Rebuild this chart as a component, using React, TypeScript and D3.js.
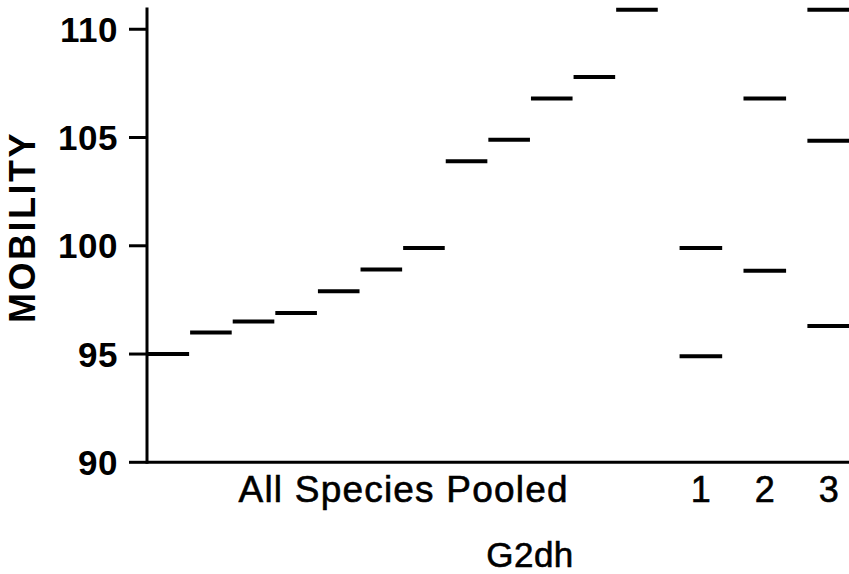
import React from "react";
import * as d3 from "d3";

// mobility values
const pooledValues = [95, 96, 96.5, 96.9, 97.9, 98.9, 99.9, 103.9, 104.9, 106.8, 107.8, 110.9];
const group1Values = [99.9, 94.9];
const group2Values = [106.8, 98.85];
const group3Values = [110.9, 104.85, 96.3];

const groupLabels = ["1", "2", "3"];
// slot position (in dash widths) where each group column starts
const groupSlots = [12.5, 14, 15.5];
const yTicks = [90, 95, 100, 105, 110];

const FONT = "'Liberation Sans', Arial, Helvetica, sans-serif";

const App = () => {
    const width = 849;
    const height = 574;

    // x in "slot" units, one slot = width of one dash
    const x = d3.scaleLinear().domain([0, 16.5]).range([147, 850]);
    const y = d3.scaleLinear().domain([90, 111]).range([462.3, 7.6]);

    // build the list of dashes
    const dashes: { x0: number; x1: number; v: number }[] = [];
    pooledValues.forEach((v, i) => {
        dashes.push({ x0: x(i) + 0.5, x1: x(i + 1) - 0.5, v });
    });
    [group1Values, group2Values, group3Values].forEach((vals, g) => {
        vals.forEach((v) => {
            dashes.push({ x0: x(groupSlots[g]), x1: x(groupSlots[g] + 1), v });
        });
    });

    // slightly heavier regular text, like the scanned original
    const labelStyle = { stroke: "#000", strokeWidth: 0.6 };

    return (
        <svg
            width={width}
            height={height}
            style={{ position: "absolute", left: 0, top: 0, background: "#fff" }}
        >
            {/* axes */}
            <line x1={147} x2={147} y1={y(111)} y2={y(90) + 1.5} stroke="#000" strokeWidth={3} />
            <line x1={147} x2={width} y1={y(90)} y2={y(90)} stroke="#000" strokeWidth={3} />
            {yTicks.map((t) => (
                <g key={t}>
                    <line x1={129} x2={147} y1={y(t)} y2={y(t)} stroke="#000" strokeWidth={3} />
                    <text
                        x={118}
                        y={y(t)}
                        textAnchor="end"
                        dominantBaseline="central"
                        fontFamily={FONT}
                        fontWeight="bold"
                        fontSize="35px"
                        letterSpacing="0.5px"
                    >
                        {t}
                    </text>
                </g>
            ))}

            {/* dashes */}
            {dashes.map((d, i) => (
                <line key={i} x1={d.x0} x2={d.x1} y1={y(d.v)} y2={y(d.v)} stroke="#000" strokeWidth={4} />
            ))}

            {/* category labels */}
            <text
                x={x(6) + 1}
                y={502}
                textAnchor="middle"
                fontFamily={FONT}
                fontSize="37px"
                letterSpacing="1.2px"
                style={labelStyle}
            >
                All Species Pooled
            </text>
            {groupLabels.map((l, g) => (
                <text
                    key={l}
                    x={x(groupSlots[g] + 0.5)}
                    y={502}
                    textAnchor="middle"
                    fontFamily={FONT}
                    fontSize="36px"
                    style={labelStyle}
                >
                    {l}
                </text>
            ))}
            <text
                x={530}
                y={567}
                textAnchor="middle"
                fontFamily={FONT}
                fontSize="35px"
                letterSpacing="0.5px"
                style={labelStyle}
            >
                G2dh
            </text>

            {/* y label */}
            <text
                transform={`translate(35,227) rotate(-90)`}
                textAnchor="middle"
                fontFamily={FONT}
                fontWeight="bold"
                fontSize="36px"
                letterSpacing="2.5px"
            >
                MOBILITY
            </text>
        </svg>
    );
};

export default App;
